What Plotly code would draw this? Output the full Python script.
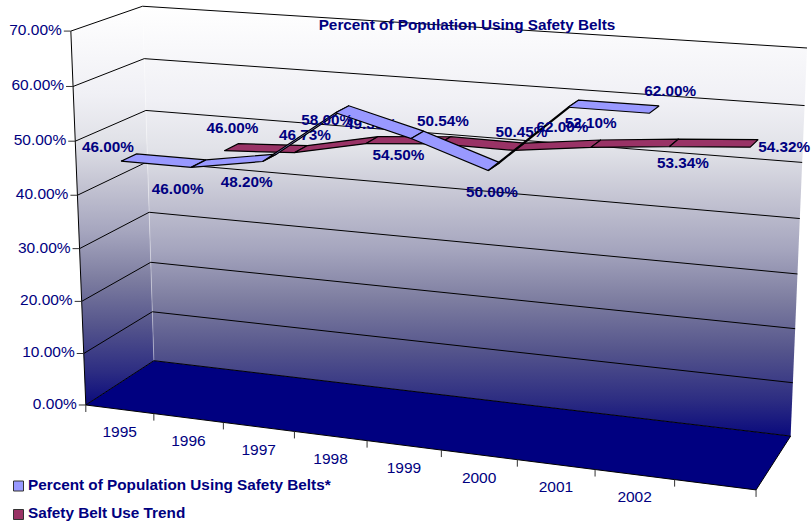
"""
Excel style 3D line chart, drawn with a small perspective camera on flat axes.
Walls, floor and ribbons all go through project(category, depth, percent).
"""
import numpy as np
import plotly.graph_objects as go

CATEGORIES = ["1995", "1996", "1997", "1998", "1999", "2000", "2001", "2002", ""]
BELT_VALUES = [46.00, 46.00, 48.20, 58.00, 54.50, 50.00, 62.00, 62.00, None]
TREND_VALUES = [None, 46.00, 46.73, 49.50, 50.54, 50.45, 52.10, 53.34, 54.32]
Y_TICKS = [0, 10, 20, 30, 40, 50, 60, 70]

BELT_NAME = "Percent of Population Using Safety Belts*"
TREND_NAME = "Safety Belt Use Trend"
TITLE = "Percent of Population Using Safety Belts"

# label offsets from the projected point, screen pixels
BELT_LABEL_OFFSET = [(-21, -9), (-21, 27), (-23, 25), (-15, 12), (-19, 21), (-2, 27), (-11, 25), (16, -17)]
TREND_LABEL_OFFSET = [(1, -18), (4, -13), (-1, -15), (-2, -18), (2, -14), (-5, -19), (9, 21), (30, 5)]

NAVY = "#000080"
N_CAT = len(CATEGORIES)

# wall shading, bottom to top
WALL_COLORSCALE = [
    [0.0, "#0a0a7d"], [0.084, "#2d2d82"], [0.2, "#55558c"], [0.316, "#7d7da0"],
    [0.433, "#a5a5be"], [0.549, "#c3c3d2"], [0.665, "#e1e2e8"], [0.78, "#f0f0f5"], [1.0, "#ffffff"],
]

# camera fit: (category, depth, percent) -> screen px, from the box corners
_world = [(0, 0, 0), (0, 0, 70), (0, 1, 0), (0, 1, 70), (N_CAT, 1, 0), (N_CAT, 1, 70), (N_CAT, 0, 0)]
_screen = [(86, 405), (70.7, 31), (153.7, 360.7), (142.7, 6.3), (790.7, 436), (807, 48), (756, 490)]
_rows, _rhs = [], []
for (cx, cy, cz), (sx, sy) in zip(_world, _screen):
    _rows.append([cx, cy, cz, 1, 0, 0, 0, 0, -sx * cx, -sx * cy, -sx * cz])
    _rows.append([0, 0, 0, 0, cx, cy, cz, 1, -sy * cx, -sy * cy, -sy * cz])
    _rhs += [sx, sy]
_cam = np.linalg.lstsq(np.array(_rows, float), np.array(_rhs, float), rcond=None)[0]
CAM = np.append(_cam, 1).reshape(3, 4)


def project(cat, depth, pct):
    u, v, w = CAM @ np.array([cat, depth, pct, 1.0])
    return u / w, v / w


def polygon(points, fill, line="black", width=1.0, gradient=None):
    xy = [project(*p) for p in points]
    xy.append(xy[0])
    kw = dict(fillgradient=gradient) if gradient else dict(fillcolor=fill)
    return go.Scatter(
        x=[p[0] for p in xy], y=[p[1] for p in xy], mode="lines", fill="toself",
        line=dict(color=line, width=width), hoverinfo="skip", showlegend=False, **kw,
    )


def polyline(points, color="black", width=1.0):
    xy = [project(*p) for p in points]
    return go.Scatter(
        x=[p[0] for p in xy], y=[p[1] for p in xy], mode="lines",
        line=dict(color=color, width=width), hoverinfo="skip", showlegend=False,
    )


def text_at(x, y, text, size=15.3, bold=False, color=NAVY, pos="middle center"):
    label = f"<b>{text}</b>" if bold else text
    return go.Scatter(
        x=[x], y=[y], mode="text", text=[label], textposition=pos,
        textfont=dict(family="Liberation Sans", size=size, color=color),
        hoverinfo="skip", showlegend=False,
    )


def ribbon(values, depth0, depth1, fill):
    traces = []
    for i in range(N_CAT - 1):
        if values[i] is None or values[i + 1] is None:
            continue
        traces.append(polygon([
            (i + 0.5, depth0, values[i]), (i + 1.5, depth0, values[i + 1]),
            (i + 1.5, depth1, values[i + 1]), (i + 0.5, depth1, values[i]),
        ], fill, width=1.2))
    return traces


def value_labels(values, depth, offsets):
    traces = []
    present = [(i, v) for i, v in enumerate(values) if v is not None]
    for (i, v), (dx, dy) in zip(present, offsets):
        x, y = project(i + 0.5, depth, v)
        traces.append(text_at(x + dx, y + dy, f"{v:.2f}%", bold=True))
    return traces


wall_fade = dict(type="vertical", colorscale=WALL_COLORSCALE)

fig = go.Figure()

# walls and floor
fig.add_trace(polygon([(0, 0, 0), (0, 1, 0), (0, 1, 70), (0, 0, 70)], None, line="rgba(0,0,0,0)", gradient=wall_fade))
fig.add_trace(polygon([(0, 1, 0), (N_CAT, 1, 0), (N_CAT, 1, 70), (0, 1, 70)], None, line="rgba(0,0,0,0)", gradient=wall_fade))
fig.add_trace(polyline([(0, 1, 0), (0, 1, 70)], color="rgba(255,255,255,0.35)"))
fig.add_trace(polygon([(0, 0, 0), (N_CAT, 0, 0), (N_CAT, 1, 0), (0, 1, 0)], NAVY))

# gridlines along both walls, ticks on the value axis
for tick in Y_TICKS[1:]:
    fig.add_trace(polyline([(0, 0, tick), (0, 1, tick), (N_CAT, 1, tick)]))
fig.add_trace(polyline([(0, 0, 0), (0, 0, 70)]))
for tick in Y_TICKS:
    x, y = project(0, 0, tick)
    fig.add_trace(go.Scatter(x=[x - 7, x], y=[y, y], mode="lines", line=dict(color="#333333", width=1),
                             hoverinfo="skip", showlegend=False))
    fig.add_trace(text_at(x - 9, y, f"{tick:.2f}%", size=15.5, pos="middle left"))

# category ticks and labels along the front edge
for i in range(N_CAT + 1):
    x, y = project(i, 0, 0)
    fig.add_trace(go.Scatter(x=[x, x], y=[y, y + 7], mode="lines", line=dict(color="#333333", width=1),
                             hoverinfo="skip", showlegend=False))
for i, name in enumerate(CATEGORIES):
    x, y = project(i + 0.5, 0, 0)
    fig.add_trace(text_at(x, y + 24, name, size=15.5))

# rear series first so the front ribbon paints over it and over the rear labels
for trace in ribbon(TREND_VALUES, 0.64, 0.86, "#993366"):
    fig.add_trace(trace)
for trace in value_labels(TREND_VALUES, 0.75, TREND_LABEL_OFFSET):
    fig.add_trace(trace)
for trace in ribbon(BELT_VALUES, 0.14, 0.36, "#9999FF"):
    fig.add_trace(trace)
for trace in value_labels(BELT_VALUES, 0.25, BELT_LABEL_OFFSET):
    fig.add_trace(trace)

fig.add_trace(text_at(467, 26, TITLE, size=15.3, bold=True))

# legend
for y, name, colour in [(486, BELT_NAME, "#9999FF"), (514.5, TREND_NAME, "#993366")]:
    fig.add_trace(go.Scatter(x=[18.5], y=[y], mode="markers", hoverinfo="skip", showlegend=False,
                             marker=dict(symbol="square", size=10, color=colour,
                                         line=dict(color="#333333", width=1))))
    fig.add_trace(text_at(28, y, name, size=15.3, bold=True, pos="middle right"))

fig.update_layout(
    width=811, height=526, margin=dict(l=0, r=0, t=0, b=0),
    paper_bgcolor="white", plot_bgcolor="white", showlegend=False,
    xaxis=dict(range=[0, 811], visible=False, fixedrange=True),
    yaxis=dict(range=[526, 0], visible=False, fixedrange=True),
)
# the page's default body margin would push the figure 8px in
fig.write_html("out.html", config=dict(displayModeBar=False), post_script="document.body.style.margin='0';")
